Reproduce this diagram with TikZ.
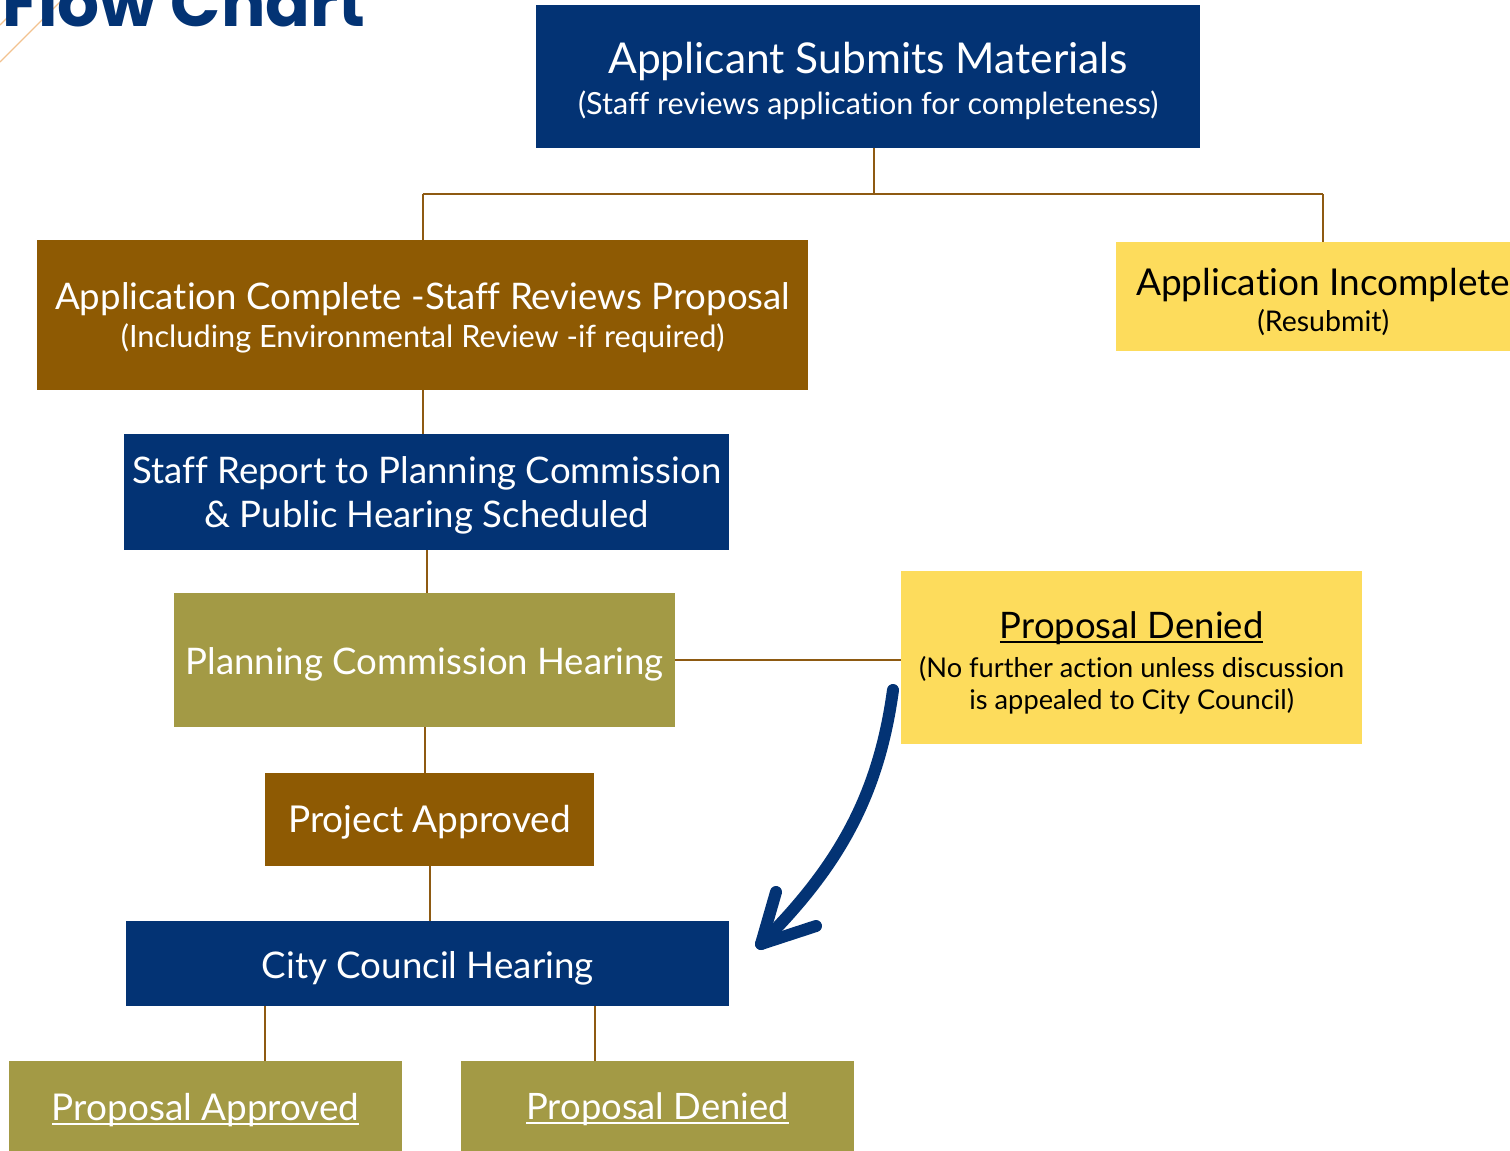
\documentclass[tikz,border=0pt]{standalone}
\usepackage{fontspec}
\setmainfont{Lato}[Ligatures=CommonOff]
\newfontfamily\titlefont{Poppins}[UprightFont=* Bold]
\definecolor{navy}{HTML}{033374}
\definecolor{brownb}{HTML}{8E5A03}
\definecolor{olive}{HTML}{A39A45}
\definecolor{yell}{HTML}{FDDC5C}
\definecolor{connc}{HTML}{8E5A12}
\definecolor{deco}{HTML}{F2C28F}
\newcommand\ulin[1]{\setbox0\hbox{#1}\leavevmode\rlap{\rule[-0.12em]{\wd0}{0.055em}}\box0}
\newcommand\fs[1]{\fontsize{#1}{#1}\selectfont}
% stack of centred lines with a fixed baseline distance
\newcommand\stk[2]{\vbox{\baselineskip=#1\lineskiplimit=-\maxdimen\lineskip=0pt
  \halign{\hfil##\hfil\cr#2\crcr}}}
% move content down by half of #1 inside a centred node
\newcommand\dn[2]{\vbox{\kern#1\hbox{#2}}}
\tikzset{
  box/.style={anchor=north west, inner sep=0pt, align=center, text=white},
  conn/.style={draw=connc, line width=1.6pt},
}
\begin{document}
\begin{tikzpicture}[x=1pt,y=-1pt]
\useasboundingbox (0,0) rectangle (1510,1151);
% decorative lines and title
\draw[deco, line width=1.2pt] (0,62) -- (60,2);
\draw[deco, line width=1.2pt] (0,25) -- (30,-5);
\node[anchor=base west, inner sep=0pt, text=navy] (title) at (2,27) {\titlefont\fontsize{66}{70}\selectfont Flow Chart};
% boxes
\node[box, fill=navy, minimum width=664pt, minimum height=143pt] (b1) at (536,5)
  {\dn{9pt}{\stk{41pt}{\fs{42.5}Applicant Submits Materials\cr\fs{30.5}(Staff reviews application for completeness)}}};
\node[box, fill=brownb, minimum width=771pt, minimum height=150pt] (b2) at (37,240)
  {\dn{6pt}{\stk{38pt}{\fs{36.6}Application Complete -Staff Reviews Proposal\cr\fs{30.7}(Including Environmental Review -if required)}}};
\node[box, fill=yell, text=black, minimum width=414pt, minimum height=109pt] (b3) at (1116,242)
  {\dn{11pt}{\stk{36pt}{\fs{37}Application Incomplete\cr\fs{28.5}(Resubmit)}}};
\node[box, fill=navy, minimum width=605pt, minimum height=116pt] (b4) at (124,434)
  {\dn{6pt}{\stk{44pt}{\fs{36.6}Staff Report to Planning Commission\cr\fs{36.6}\& Public Hearing Scheduled}}};
\node[box, fill=olive, minimum width=501pt, minimum height=134pt] (b5) at (174,593)
  {\dn{8pt}{\fs{36.6}Planning Commission Hearing}};
\node[box, fill=yell, text=black, minimum width=461pt, minimum height=173pt] (b6) at (901,571)
  {\dn{10pt}{\stk{32pt}{\fs{36.5}\ulin{Proposal Denied}\cr\noalign{\kern7pt}\fs{27.2}(No further action unless discussion\cr\fs{27.2}is appealed to City Council)}}};
\node[box, fill=brownb, minimum width=329pt, minimum height=93pt] (b7) at (265,773)
  {\dn{6pt}{\fs{37}Project Approved}};
\node[box, fill=navy, minimum width=603pt, minimum height=85pt] (b8) at (126,921)
  {\dn{10pt}{\fs{36.7}City Council Hearing}};
\node[box, fill=olive, minimum width=393pt, minimum height=95pt] (b9) at (9,1061)
  {\dn{2pt}{\fs{36.9}\ulin{Proposal Approved}}};
\node[box, fill=olive, minimum width=393pt, minimum height=95pt] (b10) at (461,1061)
  {\dn{2pt}{\fs{36.4}\ulin{Proposal Denied}}};
% connectors
\coordinate (jx) at (874,194);
\draw[conn] (b1.south -| jx) -- (jx);
\draw[conn] (b2.north |- jx) -- (b3.north |- jx);
\draw[conn] (b2.north |- jx) -- (b2.north);
\draw[conn] (b3.north |- jx) -- (b3.north);
\draw[conn] (b2.south) -- (b2.south |- b4.north);
\draw[conn] (b4.south) -- (b4.south |- b5.north);
\draw[conn] (b5.east) -- (b5.east -| b6.west);
\draw[conn] (b5.south) -- (b5.south |- b7.north);
\draw[conn] (b7.south) -- (b7.south |- b8.north);
\coordinate (c1) at (265,0);
\coordinate (c2) at (595,0);
\draw[conn] (b8.south -| c1) -- (b9.north -| c1);
\draw[conn] (b8.south -| c2) -- (b10.north -| c2);
% big arrow
\coordinate (as) at (893,690);
\coordinate (at) at (761,944);
\draw[navy, line width=12pt, line cap=round] (as) .. controls (878,800) and (835,870) .. (at);
\draw[navy, line width=12pt, line cap=round, line join=round] (776,892) -- (at) -- (816,926);
\end{tikzpicture}
\end{document}
